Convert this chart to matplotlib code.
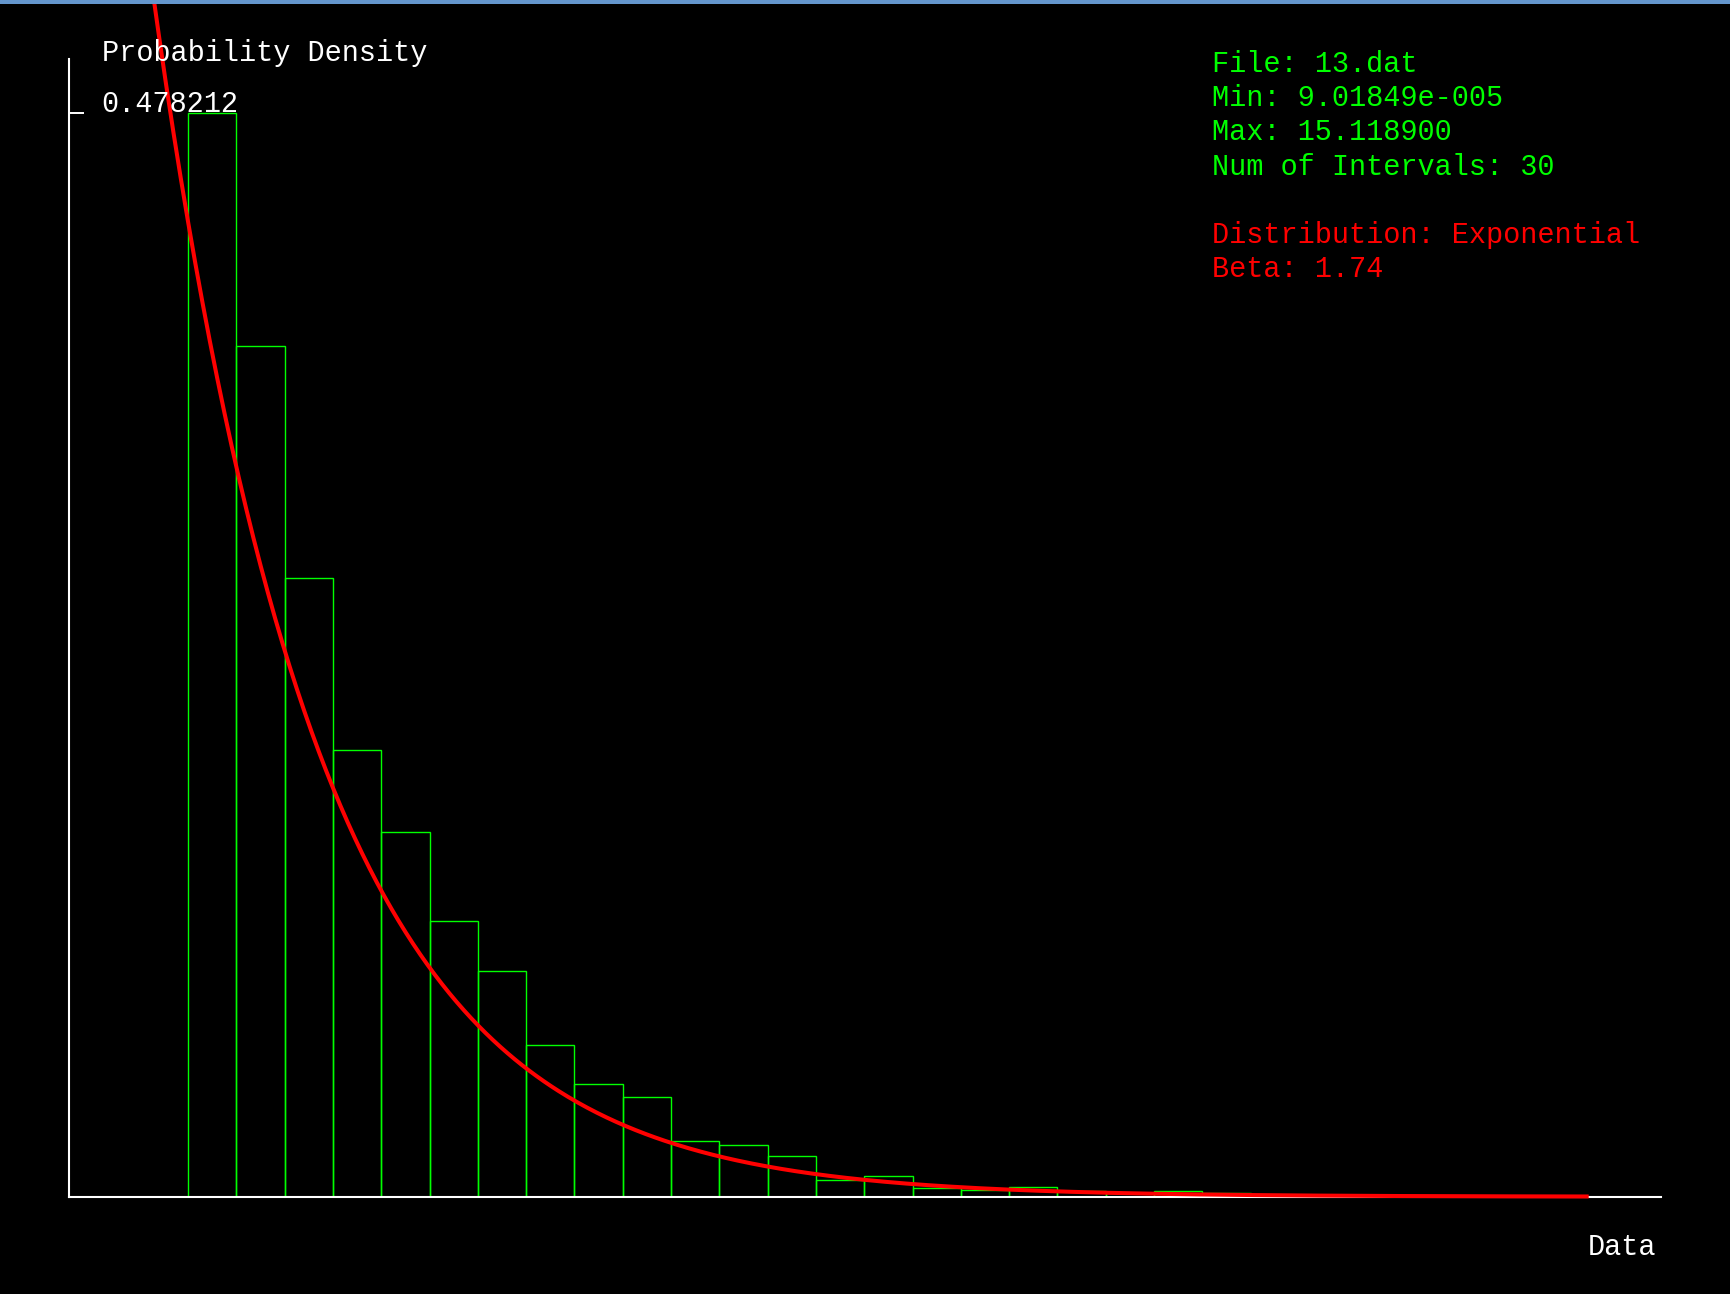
import numpy as np
import matplotlib
matplotlib.use("Agg")
from matplotlib import pyplot as plt
from matplotlib.patches import Rectangle

# histogram of 13.dat, 30 intervals
file_name = "13.dat"
data_min = 9.01849e-05
data_max = 15.1189
num_intervals = 30
beta = 1.74
density = [0.478212, 0.3754, 0.2728, 0.1971, 0.1608, 0.1215, 0.0994, 0.0668,
           0.0497, 0.0439, 0.0247, 0.0228, 0.0181, 0.0075, 0.0093, 0.0037,
           0.0030, 0.0044, 0.0026, 0.0018, 0.0026, 0.0018, 0.0008, 0.0009,
           0.0, 0.0, 0.0, 0.0, 0.0, 0.0]
info_lines = ["File: 13.dat", "Min: 9.01849e-005", "Max: 15.118900",
              "Num of Intervals: 30"]
dist_lines = ["Distribution: Exponential", "Beta: 1.74"]

W, H = 1730, 1294
font = "Liberation Mono"
fsize = 20.6

fig = plt.figure(figsize=(W / 100, H / 100), dpi=100, facecolor="black")

# pixel layout of the plot frame
x0_px, x1_px = 68.7, 1661
y0_px, ytop_px = 1196.7, 58.7
px_per_x = 48.3 / ((data_max - data_min) / num_intervals)
px_per_y = (y0_px - 112.5) / max(density)

ax = fig.add_axes([x0_px / W, (H - y0_px) / H, (x1_px - x0_px) / W, (y0_px - ytop_px) / H])
ax.set_facecolor("black")
ax.set_xlim(data_min - (188 - x0_px) / px_per_x, data_min + (x1_px - 188) / px_per_x)
ax.set_ylim(0, (y0_px - ytop_px) / px_per_y)

edges = np.linspace(data_min, data_max, num_intervals + 1)
bw = edges[1] - edges[0]
ax.bar(edges[:-1], density, width=bw, align="edge", fill=False,
       edgecolor="#00ff00", linewidth=1.0, zorder=1)

xs = np.linspace(data_min, data_max, 600)
pdf = np.exp(-xs / beta) / beta
ax.plot(xs - bw, pdf, color="#ff0000", linewidth=2.9, zorder=4, clip_on=False,
        solid_capstyle="butt")

for s in ["top", "right"]:
    ax.spines[s].set_visible(False)
for s in ["left", "bottom"]:
    ax.spines[s].set_color("white")
    ax.spines[s].set_linewidth(1.5)
    ax.spines[s].set_zorder(3)
ax.set_xticks([])
ax.set_yticks([max(density)])
ax.tick_params(axis="y", direction="in", length=11, width=1.4, color="white",
               labelleft=False)

# texts
fig.text(101.7 / W, 1 - 61 / H, "Probability Density", color="white",
         family=font, fontsize=fsize, va="baseline", ha="left")
fig.text(101.7 / W, 1 - 111.7 / H, "%g" % max(density), color="white",
         family=font, fontsize=fsize, va="baseline", ha="left")
fig.text(1587.3 / W, 1 - 1255 / H, "Data", color="white",
         family=font, fontsize=fsize, va="baseline", ha="left")

line_h = 34.2
for i, t in enumerate(info_lines):
    fig.text(1212 / W, 1 - (72 + i * line_h) / H, t, color="#00ff00",
             family=font, fontsize=fsize, va="baseline", ha="left")
for i, t in enumerate(dist_lines):
    fig.text(1212 / W, 1 - (72 + (i + 5) * line_h) / H, t, color="#ff0000",
             family=font, fontsize=fsize, va="baseline", ha="left")

# window title strip at the top
fig.patches.append(Rectangle((0, 1 - 4 / H), 1, 4 / H, transform=fig.transFigure,
                             facecolor="#6496cd", edgecolor="none", zorder=10))

fig.savefig("out.png", dpi=100, facecolor="black")
